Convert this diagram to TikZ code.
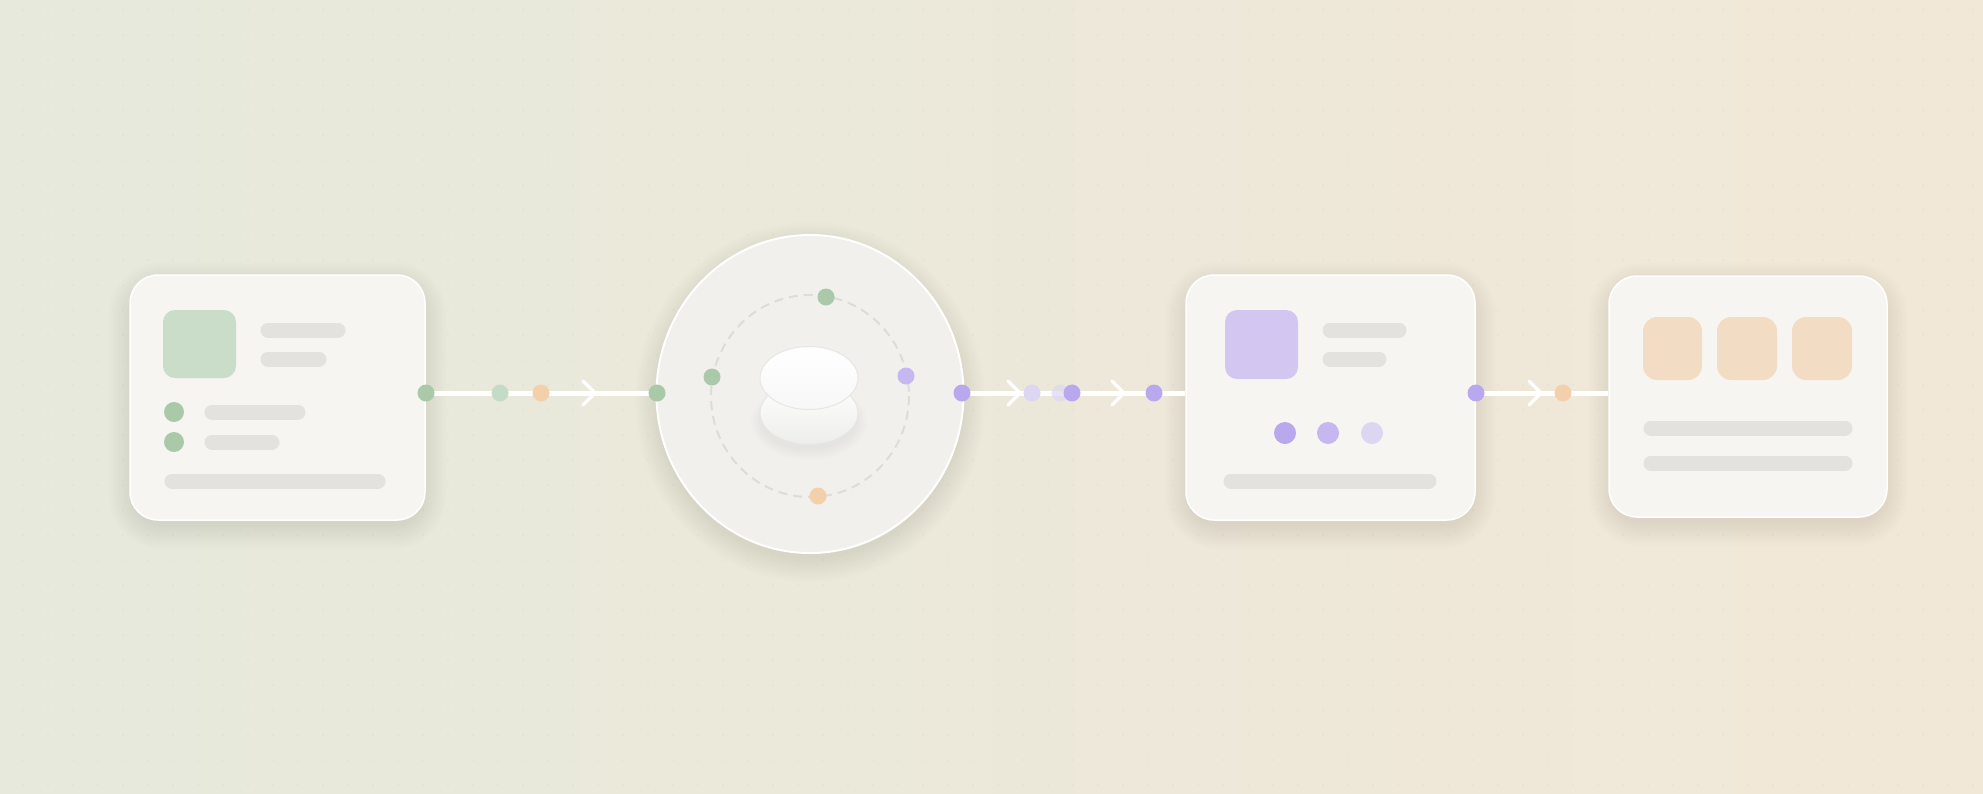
\documentclass[tikz,border=0pt]{standalone}
\usetikzlibrary{shapes.geometric}
\definecolor{bgL}{HTML}{E6E9DC}
\definecolor{bgR}{HTML}{F2E8D7}
\definecolor{cardfill}{HTML}{F6F5F2}
\definecolor{barcol}{HTML}{E3E2DF}
\definecolor{gsq}{HTML}{C9DDC8}
\definecolor{gdot}{HTML}{A9C9A8}
\definecolor{gdotl}{HTML}{C4DCC7}
\definecolor{psq}{HTML}{D3C6F1}
\definecolor{pdot}{HTML}{BAA8EE}
\definecolor{pdotm}{HTML}{C6B7F0}
\definecolor{pdotl}{HTML}{DDD6F2}
\definecolor{osq}{HTML}{F2DDC4}
\definecolor{odot}{HTML}{F4D0AA}
\definecolor{hubfill}{HTML}{F1F0EC}
\definecolor{dashcol}{HTML}{DCDCD8}
\definecolor{diskedge}{HTML}{E6E6E2}
\definecolor{diskbot}{HTML}{EDEDEA}
\pgfdeclarelayer{bg}\pgfdeclarelayer{lines}
\pgfsetlayers{bg,lines,main}
\newcommand\cardshadow[5]{%
  \foreach \s in {1,...,10}{%
    \pgfmathsetmacro\rr{#5+2.5*\s}%
    \fill[black, opacity=0.007, rounded corners=\rr pt]
      ({#1-#3/2-2.5*\s+4},{#2-#4/2-2.5*\s+12}) rectangle ({#1+#3/2+2.5*\s-4},{#2+#4/2+2.5*\s+4});
  }}
\tikzset{
  card/.style={draw=white, line width=1.5pt, fill=cardfill, rounded corners=28pt, inner sep=0pt},
  hubshape/.style={ellipse, draw=white, line width=2pt, fill=hubfill, inner sep=0pt},
  disk/.style={ellipse, draw=diskedge, line width=1pt, inner sep=0pt, minimum width=98pt, minimum height=63pt},
  sq/.style={rounded corners=12pt, inner sep=0pt},
  bar/.style={draw=barcol, line width=15pt, line cap=round},
  dot/.style={circle, inner sep=0pt, minimum size=17pt},
  conn/.style={draw=white, line width=5pt},
  chev/.style={draw=white, line width=3.4pt, line cap=round, line join=round},
  ring/.style={draw=dashcol, line width=2pt, dash pattern=on 9pt off 6pt}
}
\begin{document}
\begin{tikzpicture}[x=1pt,y=-1pt]
\useasboundingbox (0,0) rectangle (1983,793);
\begin{pgfonlayer}{bg}
\shade[left color=bgL, right color=bgR] (0,0) rectangle (1983,793);
\foreach \x in {23,48,...,1983}
  \foreach \y in {10,35,...,793}
    \fill[black, opacity=0.03] (\x,\y) circle (1pt);
\cardshadow{277.5}{397.5}{295}{245}{28}
\cardshadow{1330.5}{397.5}{289}{245}{28}
\cardshadow{1748}{396.5}{278}{241}{28}
\foreach \s in {1,...,10}
  \fill[black, opacity=0.007] (810,402) ellipse [x radius={150+2.5*\s}, y radius={155+2.5*\s}];
\end{pgfonlayer}

% cards
\node[card, minimum width=295pt, minimum height=245pt] (card1) at (277.5,397.5) {};
\node[hubshape, minimum width=307pt, minimum height=318pt] (hub) at (810,394) {};
\node[card, minimum width=289pt, minimum height=245pt] (card3) at (1330.5,397.5) {};
\node[card, minimum width=278pt, minimum height=241pt] (card4) at (1748,396.5) {};

% card 1 content
\node[sq, fill=gsq, minimum width=73pt, minimum height=68pt] (c1sq) at (199.5,344) {};
\draw[bar] (268,330) -- (338,330);
\draw[bar] (268,359) -- (319,359);
\node[dot, fill=gdot, minimum size=20pt] (c1d1) at (174,412) {};
\node[dot, fill=gdot, minimum size=20pt] (c1d2) at (174,442) {};
\draw[bar] (212,412) -- (298,412);
\draw[bar] (212,442) -- (272,442);
\draw[bar] (172,481) -- (378,481);

% card 3 content
\node[sq, fill=psq, minimum width=73pt, minimum height=69pt] (c3sq) at (1261.5,344.5) {};
\draw[bar] (1330,330) -- (1399,330);
\draw[bar] (1330,359) -- (1379,359);
\node[dot, fill=pdot, minimum size=22pt] (c3d1) at (1285,433) {};
\node[dot, fill=pdotm, minimum size=22pt] (c3d2) at (1328,433) {};
\node[dot, fill=pdotl, minimum size=22pt] (c3d3) at (1372,433) {};
\draw[bar] (1231,481) -- (1429,481);

% card 4 content
\node[sq, fill=osq, rounded corners=14pt, minimum width=59pt, minimum height=63pt] (c4s1) at (1672.5,348.5) {};
\node[sq, fill=osq, rounded corners=14pt, minimum width=60pt, minimum height=63pt] (c4s2) at (1747,348.5) {};
\node[sq, fill=osq, rounded corners=14pt, minimum width=60pt, minimum height=63pt] (c4s3) at (1822,348.5) {};
\draw[bar] (1651,428) -- (1845,428);
\draw[bar] (1651,463) -- (1845,463);

% hub content
\draw[ring] (810,396) ellipse [x radius=99, y radius=101];
\node[dot, fill=gdot] (r1) at (826,297) {};
\node[dot, fill=gdot] (r2) at (712,377) {};
\node[dot, fill=pdotm] (r3) at (906,376) {};
\node[dot, fill=odot] (r4) at (818,496) {};
\foreach \s in {1,...,6}
  \fill[black, opacity=0.008] (809,422) ellipse [x radius={46+2*\s}, y radius={26+2*\s}];
\node[disk, top color=white, bottom color=diskbot] (diskB) at (809,413) {};
\node[disk, top color=white, bottom color=white!97!black] (diskT) at (809,378) {};

% ports and connector dots
\node[dot, fill=gdot] (p1) at (426,393) {};
\node[dot, fill=gdotl] (m1) at (500,393) {};
\node[dot, fill=odot] (m2) at (541,393) {};
\node[dot, fill=gdot] (p2) at (657,393) {};
\node[dot, fill=pdot] (p3) at (962,393) {};
\node[dot, fill=pdotl] (m3) at (1032,393) {};
\node[dot, fill=pdotl, opacity=0.7] (m4) at (1060,393) {};
\node[dot, fill=pdot] (m5) at (1072,393) {};
\node[dot, fill=pdot] (m6) at (1154,393) {};
\node[dot, fill=pdot] (p4) at (1476,393) {};
\node[dot, fill=odot] (m7) at (1563,393) {};

\begin{pgfonlayer}{lines}
\draw[conn] (p1.center) -- (p2.center);
\draw[conn] (p3.center) -- (p3.center -| card3.west);
\draw[conn] (p4.center) -- (p4.center -| card4.west);
\end{pgfonlayer}

% chevrons
\draw[chev] (583,381) -- (595,393) -- (583,405);
\draw[chev] (1008,381) -- (1020,393) -- (1008,405);
\draw[chev] (1112,381) -- (1124,393) -- (1112,405);
\draw[chev] (1529,381) -- (1541,393) -- (1529,405);
\end{tikzpicture}
\end{document}
